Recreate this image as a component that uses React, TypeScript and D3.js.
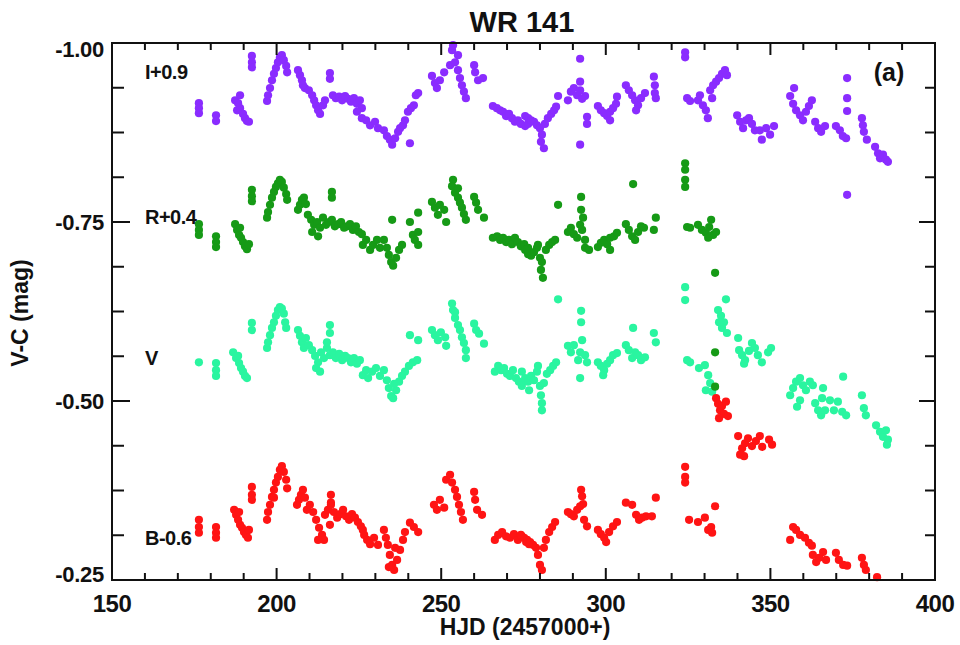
import * as d3 from 'd3';

// I+0.9 band (HJD - 2457000, V-C mag as plotted)
const iBand: [number, number][] = [
  [176.4,-0.916],[176.4,-0.909],[176.4,-0.902],[181.6,-0.899],[181.6,-0.891],
  [187.4,-0.920],[188.0,-0.906],[188.3,-0.916],[188.9,-0.927],[188.9,-0.909],[189.8,-0.901],[190.4,-0.895],[191.0,-0.891],[191.6,-0.890],
  [192.5,-0.982],[192.5,-0.973],[192.5,-0.966],
  [197.1,-0.919],[197.4,-0.927],[198.0,-0.937],[198.6,-0.948],[199.2,-0.957],[199.8,-0.965],[200.4,-0.973],[201.0,-0.980],[201.6,-0.983],[202.2,-0.976],[202.9,-0.968],[203.2,-0.959],
  [206.5,-0.962],[207.1,-0.955],[207.7,-0.948],[208.0,-0.941],[208.6,-0.937],
  [209.8,-0.934],[210.8,-0.927],[211.4,-0.920],[212.0,-0.913],[212.6,-0.906],[213.2,-0.901],[214.1,-0.913],[214.7,-0.920],
  [216.2,-0.958],[216.2,-0.950],
  [217.1,-0.927],[218.0,-0.923],[219.0,-0.925],[219.9,-0.920],[220.8,-0.926],[221.7,-0.922],[222.6,-0.918],[223.5,-0.923],[224.4,-0.915],[225.3,-0.920],[225.9,-0.909],
  [224.4,-0.904],[225.9,-0.895],[227.2,-0.892],[228.4,-0.885],[229.9,-0.890],[230.8,-0.881],
  [232.6,-0.878],[233.5,-0.870],[234.4,-0.865],[235.1,-0.858],[236.0,-0.867],[236.9,-0.876],[237.5,-0.881],[238.4,-0.885],
  [239.0,-0.892],[239.9,-0.904],[240.8,-0.909],[241.7,-0.913],[242.3,-0.927],[243.0,-0.930],[240.5,-0.860],
  [247.2,-0.954],[248.1,-0.944],[248.7,-0.937],[249.6,-0.948],[250.9,-0.959],
  [253.6,-0.997],[253.3,-0.990],[252.7,-0.969],[254.2,-0.973],[255.1,-0.983],[255.1,-0.962],[255.7,-0.951],[256.3,-0.941],[256.9,-0.932],[257.5,-0.923],
  [260.0,-0.969],[260.3,-0.959],[261.2,-0.948],[262.7,-0.951],
  [265.7,-0.912],[266.9,-0.909],[267.9,-0.906],[268.8,-0.904],[269.7,-0.898],[270.6,-0.901],[271.5,-0.895],[272.4,-0.890],[273.3,-0.892],[274.2,-0.887],[275.5,-0.884],[276.4,-0.887],
  [275.5,-0.898],[276.4,-0.895],[277.3,-0.892],[278.2,-0.890],[279.1,-0.885],[280.0,-0.881],[280.6,-0.872],[280.3,-0.862],[281.2,-0.853],[281.5,-0.887],[282.4,-0.895],[283.4,-0.901],[284.3,-0.906],[284.9,-0.911],
  [285.5,-0.926],
  [288.5,-0.920],[289.4,-0.932],[290.3,-0.937],[291.3,-0.927],[292.2,-0.934],[292.8,-0.922],[293.7,-0.926],[292.2,-0.946],[292.2,-0.978],[292.2,-0.858],[294.3,-0.897],[294.3,-0.887],
  [297.6,-0.912],[298.5,-0.906],[299.5,-0.902],[300.4,-0.898],[301.3,-0.904],[302.2,-0.909],[303.1,-0.915],[301.3,-0.892],[303.4,-0.925],
  [306.1,-0.941],[307.0,-0.934],[308.0,-0.927],[308.9,-0.920],[309.8,-0.913],[310.7,-0.923],[311.9,-0.930],[309.2,-0.906],
  [314.6,-0.953],[314.9,-0.941],[314.9,-0.930],[315.2,-0.923],
  [324.1,-0.987],[324.1,-0.980],[324.7,-0.923],[325.6,-0.919],
  [328.0,-0.920],[328.6,-0.927],[329.5,-0.913],[330.4,-0.906],[331.0,-0.895],[331.7,-0.934],[332.3,-0.923],[332.6,-0.941],[333.5,-0.946],[334.4,-0.951],[335.3,-0.957],[336.2,-0.962],[336.8,-0.955],
  [339.9,-0.899],[340.8,-0.890],[341.7,-0.881],[342.6,-0.892],[343.5,-0.895],[344.4,-0.887],[345.3,-0.878],
  [346.8,-0.878],[347.4,-0.865],[348.7,-0.881],[349.9,-0.872],[351.1,-0.884],
  [356.0,-0.926],[356.9,-0.915],[357.8,-0.906],[359.0,-0.899],[359.9,-0.892],[360.8,-0.904],[361.7,-0.912],[362.6,-0.920],[357.2,-0.937],
  [363.6,-0.890],[364.5,-0.881],[365.4,-0.876],[366.6,-0.884],
  [369.9,-0.884],[371.1,-0.878],[372.0,-0.870],[373.0,-0.867],
  [373.3,-0.951],[373.3,-0.923],[373.3,-0.905],[373.3,-0.788],
  [377.8,-0.895],[378.1,-0.885],[378.4,-0.876],[379.3,-0.865],
  [381.8,-0.855],[382.7,-0.846],[383.3,-0.839],[384.2,-0.844],[385.1,-0.837],[385.7,-0.834],
];

// R+0.4 band
const rBand: [number, number][] = [
  [176.4,-0.747],[176.4,-0.739],[176.4,-0.732],[181.6,-0.730],[181.6,-0.722],[181.6,-0.715],
  [187.4,-0.747],[188.0,-0.739],[188.6,-0.732],[189.2,-0.728],[189.8,-0.722],[190.4,-0.716],[191.0,-0.712],[188.9,-0.742],[191.6,-0.719],
  [192.5,-0.795],[192.5,-0.786],[192.5,-0.779],
  [197.1,-0.756],[197.4,-0.764],[198.0,-0.774],[198.6,-0.784],[199.2,-0.792],[199.8,-0.799],[200.4,-0.804],[201.0,-0.809],[201.6,-0.806],[202.2,-0.798],[202.9,-0.789],[203.2,-0.781],
  [206.5,-0.767],[207.1,-0.774],[207.7,-0.781],[208.3,-0.784],[208.9,-0.775],
  [209.5,-0.760],[210.5,-0.753],[211.4,-0.746],[212.3,-0.750],[213.2,-0.742],[214.1,-0.756],[215.0,-0.746],[215.9,-0.750],[216.8,-0.753],[217.7,-0.744],[218.7,-0.747],[219.6,-0.750],[220.5,-0.742],[221.4,-0.744],[222.3,-0.747],[223.2,-0.739],[224.1,-0.744],[225.0,-0.736],[225.9,-0.733],[210.8,-0.736],[212.6,-0.730],
  [216.8,-0.792],[216.8,-0.784],
  [226.2,-0.718],[227.2,-0.725],[228.4,-0.711],[229.3,-0.718],[230.5,-0.725],[231.4,-0.714],
  [232.6,-0.725],[233.5,-0.714],[234.1,-0.704],[234.8,-0.694],[235.4,-0.689],[236.3,-0.700],[237.2,-0.711],[238.1,-0.718],[235.1,-0.753],
  [240.5,-0.750],[241.4,-0.732],[242.0,-0.725],[243.0,-0.736],[243.0,-0.718],[243.0,-0.763],
  [247.2,-0.778],[248.1,-0.770],[249.0,-0.760],[249.6,-0.774],[250.9,-0.767],[251.5,-0.750],
  [253.6,-0.809],[253.3,-0.800],[254.2,-0.791],[255.1,-0.784],[255.7,-0.777],[256.3,-0.770],[256.9,-0.761],[257.5,-0.753],[255.1,-0.797],
  [260.0,-0.785],[260.6,-0.777],[261.2,-0.767],[263.0,-0.756],
  [265.7,-0.728],[267.0,-0.730],[267.9,-0.725],[268.8,-0.728],[269.7,-0.722],[270.6,-0.725],[271.5,-0.719],[272.4,-0.728],[273.3,-0.722],[274.2,-0.716],[275.2,-0.719],[276.4,-0.714],
  [275.5,-0.711],[276.4,-0.705],[277.3,-0.703],[278.2,-0.708],[279.1,-0.714],[280.0,-0.700],[280.6,-0.694],[280.3,-0.683],[280.9,-0.672],[281.8,-0.711],[282.8,-0.718],[283.7,-0.722],[284.6,-0.725],[279.4,-0.718],
  [285.5,-0.774],
  [288.5,-0.736],[289.4,-0.742],[290.3,-0.733],[291.3,-0.728],[292.2,-0.746],[292.8,-0.739],[293.7,-0.725],[292.5,-0.785],[292.5,-0.767],[293.1,-0.756],[293.7,-0.714],[294.9,-0.711],
  [297.6,-0.715],[298.5,-0.721],[299.5,-0.725],[300.4,-0.719],[301.3,-0.728],[302.5,-0.730],[303.4,-0.735],[301.3,-0.711],
  [308.3,-0.803],
  [306.1,-0.747],[307.0,-0.739],[308.0,-0.730],[308.9,-0.725],[309.8,-0.736],[310.7,-0.744],[311.6,-0.742],
  [314.6,-0.739],[315.2,-0.756],
  [324.1,-0.832],[324.1,-0.823],[324.1,-0.809],[324.1,-0.799],
  [324.7,-0.743],[325.6,-0.742],[328.0,-0.746],[329.2,-0.739],[330.4,-0.735],[331.4,-0.743],[332.0,-0.753],[332.6,-0.732],[331.1,-0.728],[333.5,-0.736],
  [333.2,-0.679],[333.2,-0.568],[333.2,-0.520],
];

// V band
const vBand: [number, number][] = [
  [176.4,-0.554],[181.6,-0.553],[181.6,-0.543],[181.6,-0.535],
  [186.8,-0.568],[187.7,-0.560],[188.6,-0.553],[189.2,-0.546],[189.8,-0.541],[190.4,-0.535],[191.0,-0.532],[188.3,-0.563],
  [192.5,-0.609],[192.5,-0.599],
  [197.1,-0.574],[197.4,-0.582],[198.0,-0.592],[198.6,-0.602],[199.2,-0.610],[199.8,-0.619],[200.4,-0.627],[201.0,-0.631],[201.6,-0.629],[202.2,-0.622],[202.6,-0.610],[202.9,-0.602],
  [206.5,-0.599],[207.1,-0.591],[207.7,-0.582],[208.3,-0.574],[208.9,-0.588],[209.8,-0.578],
  [210.8,-0.571],[211.7,-0.563],[212.6,-0.554],[213.5,-0.568],[214.4,-0.560],[215.3,-0.574],[216.2,-0.564],[217.1,-0.568],[218.0,-0.560],[219.0,-0.566],[219.9,-0.557],[220.8,-0.563],[221.7,-0.560],[222.6,-0.554],[223.5,-0.560],[224.4,-0.552],[225.3,-0.557],[212.0,-0.546],[213.2,-0.541],
  [216.2,-0.606],[216.2,-0.595],[215.3,-0.582],
  [226.2,-0.536],[227.2,-0.543],[227.8,-0.532],[229.0,-0.541],[230.2,-0.546],[231.4,-0.535],
  [232.6,-0.543],[233.5,-0.529],[234.1,-0.518],[234.8,-0.507],[235.4,-0.504],[236.3,-0.515],[237.2,-0.527],[238.1,-0.535],[235.7,-0.524],
  [239.0,-0.541],[240.2,-0.549],[241.4,-0.554],[242.7,-0.557],[240.5,-0.592],[243.0,-0.585],
  [247.2,-0.599],[248.1,-0.592],[249.0,-0.585],[249.9,-0.596],[251.2,-0.589],[251.5,-0.577],
  [253.3,-0.636],[253.6,-0.627],[254.2,-0.616],[255.1,-0.606],[255.7,-0.599],[256.3,-0.589],[256.9,-0.581],[257.5,-0.571],[257.5,-0.560],[254.2,-0.624],
  [260.0,-0.608],[260.6,-0.599],[261.5,-0.594],[263.0,-0.580],
  [266.3,-0.541],[267.3,-0.549],[268.2,-0.543],[269.1,-0.546],[270.0,-0.538],[270.9,-0.535],[271.8,-0.543],[272.7,-0.532],[273.6,-0.527],[274.5,-0.521],[275.8,-0.529],[276.7,-0.515],
  [274.5,-0.541],[275.5,-0.532],[276.4,-0.527],[277.3,-0.535],[278.2,-0.529],[279.1,-0.541],[280.0,-0.521],[280.3,-0.508],[280.6,-0.497],[280.6,-0.487],[281.2,-0.525],[282.1,-0.538],[283.1,-0.543],[284.0,-0.549],[284.9,-0.554],[279.4,-0.549],
  [285.5,-0.642],
  [288.5,-0.577],[289.4,-0.568],[290.3,-0.578],[291.6,-0.557],[292.2,-0.568],[292.8,-0.585],[292.5,-0.610],[292.5,-0.626],[293.7,-0.564],[294.3,-0.554],[292.2,-0.532],
  [297.6,-0.554],[298.5,-0.549],[299.5,-0.543],[300.4,-0.552],[301.3,-0.557],[302.2,-0.564],[303.4,-0.567],[299.2,-0.536],
  [306.1,-0.578],[307.0,-0.571],[308.0,-0.560],[308.9,-0.568],[308.3,-0.602],[309.8,-0.564],[310.7,-0.557],[311.9,-0.561],
  [314.6,-0.595],[315.2,-0.582],
  [324.1,-0.659],[324.1,-0.641],
  [324.7,-0.557],[325.6,-0.554],[328.3,-0.546],[330.1,-0.550],[331.1,-0.536],[331.7,-0.525],[330.4,-0.515],[332.3,-0.513],
  [336.5,-0.642],[334.1,-0.627],[335.0,-0.619],[335.9,-0.610],[335.3,-0.602],[336.8,-0.595],[334.4,-0.610],
  [340.2,-0.588],[340.5,-0.571],[341.4,-0.564],[342.3,-0.557],[343.5,-0.570],[344.4,-0.581],[345.3,-0.574],[346.2,-0.564],[347.4,-0.554],[349.3,-0.568],[350.2,-0.574],[342.0,-0.552],
  [356.0,-0.508],[356.9,-0.518],[357.8,-0.527],[359.0,-0.532],[359.9,-0.522],[360.8,-0.515],[362.0,-0.527],[362.9,-0.522],[359.0,-0.501],[358.1,-0.492],
  [363.6,-0.497],[364.5,-0.487],[365.4,-0.480],[366.6,-0.487],[368.1,-0.501],[369.3,-0.487],[370.5,-0.499],[365.7,-0.504],[372.1,-0.534],[366.0,-0.518],
  [371.8,-0.485],[373.0,-0.480],
  [377.8,-0.508],[378.4,-0.490],[379.0,-0.480],
  [382.1,-0.466],[383.3,-0.457],[384.2,-0.450],[385.1,-0.459],[385.7,-0.446],[385.4,-0.439],
];

// B-0.6 band
const bBand: [number, number][] = [
  [176.4,-0.334],[176.4,-0.324],[176.4,-0.316],[181.6,-0.324],[181.6,-0.316],[181.6,-0.309],
  [187.1,-0.348],[187.7,-0.341],[188.3,-0.334],[188.9,-0.327],[189.5,-0.323],[190.1,-0.317],[190.7,-0.313],[191.3,-0.309],[191.6,-0.320],[188.6,-0.345],
  [192.5,-0.380],[192.5,-0.369],[192.5,-0.362],
  [197.1,-0.334],[197.4,-0.345],[198.0,-0.355],[198.6,-0.366],[199.2,-0.376],[199.8,-0.386],[200.4,-0.394],[201.0,-0.404],[201.6,-0.409],[202.2,-0.401],[202.9,-0.390],[203.2,-0.378],[199.2,-0.365],
  [206.2,-0.355],[206.8,-0.362],[207.4,-0.369],[208.0,-0.376],[208.6,-0.365],[209.2,-0.348],
  [210.1,-0.355],[211.1,-0.345],[212.0,-0.334],[212.9,-0.323],[213.8,-0.313],[214.4,-0.306],[214.7,-0.341],[215.6,-0.348],[216.5,-0.355],[217.4,-0.345],[218.4,-0.337],[219.3,-0.342],[220.2,-0.348],[221.1,-0.339],[222.0,-0.334],[222.9,-0.342],[223.8,-0.337],[224.7,-0.331],[225.6,-0.325],[226.2,-0.320],[212.6,-0.306],[216.2,-0.327],
  [216.5,-0.369],[216.5,-0.358],
  [226.6,-0.313],[227.5,-0.306],[228.4,-0.300],[229.6,-0.309],[230.8,-0.299],
  [232.6,-0.320],[233.2,-0.309],[233.8,-0.299],[234.4,-0.285],[235.1,-0.271],[235.7,-0.264],[236.6,-0.278],[237.5,-0.292],[238.4,-0.306],[239.0,-0.317],[236.0,-0.295],[234.1,-0.268],
  [240.5,-0.330],[241.7,-0.324],[243.0,-0.317],
  [247.8,-0.355],[248.7,-0.348],[249.6,-0.362],[250.9,-0.351],
  [251.5,-0.390],[252.7,-0.397],[253.3,-0.386],[254.2,-0.376],[254.8,-0.366],[255.4,-0.355],[256.0,-0.345],[256.6,-0.334],
  [260.0,-0.373],[260.3,-0.362],[260.9,-0.348],[262.4,-0.341],
  [266.3,-0.306],[267.3,-0.313],[268.5,-0.317],[269.7,-0.311],[270.9,-0.309],[272.1,-0.314],[273.3,-0.306],[274.5,-0.311],[275.8,-0.303],[276.7,-0.300],
  [274.2,-0.313],[275.2,-0.309],[276.1,-0.306],[277.0,-0.303],[277.9,-0.299],[278.8,-0.295],[279.4,-0.285],[280.0,-0.271],[280.6,-0.264],[281.2,-0.295],[281.8,-0.306],[282.8,-0.317],[283.7,-0.324],[284.6,-0.331],
  [288.5,-0.345],[289.4,-0.342],[290.3,-0.339],[291.3,-0.348],[292.2,-0.353],[292.8,-0.367],[292.5,-0.376],[293.1,-0.356],[293.4,-0.334],[294.3,-0.325],
  [297.6,-0.320],[298.5,-0.314],[299.5,-0.309],[300.1,-0.303],[301.0,-0.317],[302.2,-0.325],[303.4,-0.331],
  [306.1,-0.358],[308.0,-0.355],[309.2,-0.341],[310.1,-0.334],[311.0,-0.337],[312.2,-0.339],
  [314.0,-0.339],[315.2,-0.365],
  [324.1,-0.408],[324.1,-0.394],[324.1,-0.386],
  [325.3,-0.334],[328.0,-0.331],[330.1,-0.337],[331.1,-0.320],[332.0,-0.324],[332.3,-0.316],[333.2,-0.353],
  [333.5,-0.504],[334.1,-0.496],[334.7,-0.487],[335.3,-0.493],[335.9,-0.482],[336.5,-0.499],[337.1,-0.479],[334.4,-0.476],
  [340.2,-0.451],[341.4,-0.434],[342.3,-0.441],[343.2,-0.448],[344.4,-0.437],[345.6,-0.444],[346.8,-0.451],[347.5,-0.436],[349.6,-0.446],[350.5,-0.439],[342.0,-0.423],[340.8,-0.425],
  [356.0,-0.306],[356.9,-0.324],[357.8,-0.320],[359.0,-0.313],[360.5,-0.309],[361.7,-0.302],[362.6,-0.298],
  [362.9,-0.285],[363.9,-0.275],[364.8,-0.281],[366.0,-0.289],[366.9,-0.278],
  [369.9,-0.288],[370.8,-0.278],[372.1,-0.271],[373.3,-0.270],
  [377.8,-0.281],[378.4,-0.271],[379.0,-0.264],
  [382.4,-0.254],
];

const xTicks = [150, 200, 250, 300, 350, 400];
const xMinorTicks = d3.range(150, 401, 10);
const yTicks = [-1.0, -0.75, -0.5, -0.25];
const yTickLabels = ['-1.00', '-0.75', '-0.50', '-0.25'];
const yMinorTicks = d3.range(-1.0, -0.2499, 0.0625);

const bandNames = ['I+0.9', 'R+0.4', 'V', 'B-0.6'];
const bandLabelLevels = [-0.96, -0.757, -0.56, -0.309];
const bandColors = ['#8a2cff', '#169a16', '#2af5a0', '#ff1414'];

const W = 960;
const H = 645;
const left = 112;
const right = 935;
const top = 43;
const bottom = 580;
const font = '"Liberation Sans", Arial, Helvetica, sans-serif';

export default function App() {
  const x = d3.scaleLinear().domain([150, 400]).range([left, right]);
  const y = d3.scaleLinear().domain([-1.0, -0.25]).range([top, bottom]);

  // draw order: I, V, R, B
  const series = [
    { data: iBand, color: bandColors[0] },
    { data: vBand, color: bandColors[2] },
    { data: rBand, color: bandColors[1] },
    { data: bBand, color: bandColors[3] },
  ];

  return (
    <svg
      width={W}
      height={H}
      style={{ position: 'absolute', left: 0, top: 0, background: '#fff' }}
      fontFamily={font}
    >
      <rect x={0} y={0} width={W} height={H} fill="#fff" />

      {series.map((s, si) => (
        <g key={si} fill={s.color}>
          {s.data.map((d, i) => (
            <circle key={i} cx={x(d[0])} cy={y(d[1])} r={4.1} />
          ))}
        </g>
      ))}

      {/* frame */}
      <rect x={left} y={top} width={right - left} height={bottom - top}
        fill="none" stroke="#111" strokeWidth={2} />

      {/* x ticks, bottom and top */}
      {xMinorTicks.map(t => {
        const major = t % 50 === 0;
        const len = major ? 12 : 7;
        return (
          <g key={'xt' + t} stroke="#111" strokeWidth={2}>
            <line x1={x(t)} x2={x(t)} y1={bottom} y2={bottom - len} />
            <line x1={x(t)} x2={x(t)} y1={top} y2={top + len} />
          </g>
        );
      })}

      {/* y ticks, left and right */}
      {yMinorTicks.map((t, i) => {
        const major = i % 4 === 0;
        const lenL = major ? 18 : 12;
        const lenR = major ? 16 : 10;
        return (
          <g key={'yt' + i} stroke="#111" strokeWidth={2}>
            <line x1={left} x2={left + lenL} y1={y(t)} y2={y(t)} />
            <line x1={right} x2={right - lenR} y1={y(t)} y2={y(t)} />
          </g>
        );
      })}

      {/* tick labels */}
      {xTicks.map(t => (
        <text key={'xl' + t} x={x(t)} y={bottom + 32} textAnchor="middle"
          fontSize={24} fontWeight="bold" fill="#111" letterSpacing={-0.5}>
          {t}
        </text>
      ))}
      {yTicks.map((t, i) => (
        <text key={'yl' + t} x={left - 8}
          y={y(t) + (i === 0 ? 6 : i === yTicks.length - 1 ? -6 : 0)}
          dy="0.35em" textAnchor="end"
          fontSize={22} fontWeight="bold" fill="#111" letterSpacing={-0.3}>
          {yTickLabels[i]}
        </text>
      ))}

      {/* band labels */}
      {bandNames.map((n, i) => (
        <text key={n} x={left + 33} y={y(bandLabelLevels[i])} dy="0.35em"
          fontSize={20} fontWeight="bold" fill="#111" letterSpacing={-0.5}>
          {n}
        </text>
      ))}

      <text x={889} y={81} textAnchor="middle" fontSize={25} fontWeight="bold" fill="#111">(a)</text>

      <text x={522} y={32} textAnchor="middle" fontSize={29} fontWeight="bold" fill="#111">
        WR 141
      </text>
      <text x={525} y={635} textAnchor="middle" fontSize={23} fontWeight="bold" fill="#111">
        HJD (2457000+)
      </text>
      <text transform={`translate(28, 313) rotate(-90)`} textAnchor="middle"
        fontSize={23} fontWeight="bold" fill="#111">
        V-C (mag)
      </text>
    </svg>
  );
}
